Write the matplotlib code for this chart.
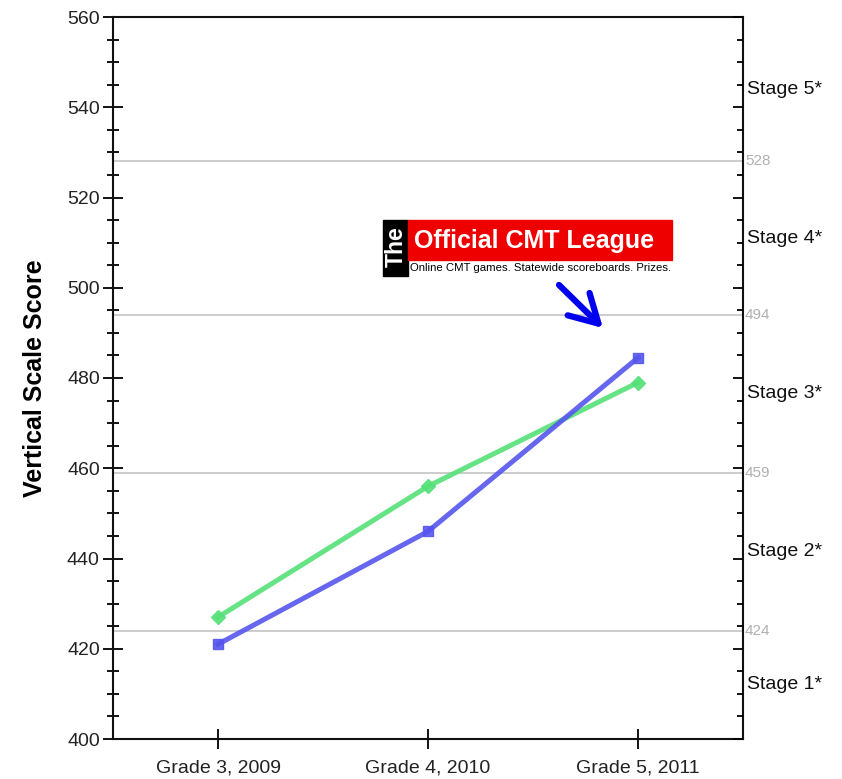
import matplotlib
matplotlib.use("Agg")
from matplotlib import pyplot as plt
from matplotlib.patches import Rectangle, FancyArrowPatch

plt.rcParams['font.family'] = ['Liberation Sans', 'DejaVu Sans']

grades = ['Grade 3, 2009', 'Grade 4, 2010', 'Grade 5, 2011']
blue_scores = [421, 446, 484.5]
green_scores = [427, 456, 479]
cut_scores = [424, 459, 494, 528]
stage_labels = ['Stage 1*', 'Stage 2*', 'Stage 3*', 'Stage 4*', 'Stage 5*']
stage_mid = [412, 441.5, 476.5, 511, 544]

fig = plt.figure(figsize=(8.42, 7.79), dpi=100)
ax = fig.add_axes([113/842, 40/779, 630/842, 722/779])

x = range(len(grades))
for c in cut_scores:
    ax.axhline(c, color='#c8c8c8', lw=1.3, zorder=1)
    ax.text(2.51, c, str(c), color='#b0b0b0', fontsize=11, va='center', ha='left')

ax.plot(x, green_scores, color='#55e077', lw=3.6, marker='D', ms=7.5, alpha=0.9, zorder=3)
ax.plot(x, blue_scores, color='#5555ee', lw=3.6, marker='s', ms=7.5, alpha=0.9, zorder=4)

for lab, y in zip(stage_labels, stage_mid):
    ax.text(2.52, y, lab, fontsize=14, color='#111111', va='center', ha='left')

ax.set_xlim(-0.5, 2.5)
ax.set_ylim(400, 560)
ax.set_xticks(list(x))
ax.set_xticklabels(grades, fontsize=14, color='#222222')
ax.set_yticks(range(400, 561, 20))
ax.set_yticks(range(400, 561, 5), minor=True)
ax.tick_params(axis='y', which='major', direction='inout', length=15, width=1.3, labelsize=14, labelcolor='#222222', pad=2)
ax.tick_params(axis='y', which='minor', direction='inout', length=8, width=1.3)

# right axis ticks point inward only
rax = ax.twinx()
rax.set_ylim(400, 560)
rax.set_yticks(range(400, 561, 20))
rax.set_yticks(range(400, 561, 5), minor=True)
rax.tick_params(axis='y', which='major', direction='in', length=7, width=1.3, labelright=False)
rax.tick_params(axis='y', which='minor', direction='in', length=4, width=1.3)
for s in rax.spines.values():
    s.set_visible(False)

ax.tick_params(axis='x', which='major', direction='inout', length=14, width=1.3, pad=8)
for s in ['left', 'right', 'bottom', 'top']:
    ax.spines[s].set_linewidth(1.5)
    ax.spines[s].set_color('#111111')
ax.set_ylabel('Vertical Scale Score', fontsize=18, fontweight='bold', labelpad=14)

# logo banner
fig.patches.append(Rectangle((383/842, 1-276/779), 25/842, 56/779, transform=fig.transFigure, color='black', zorder=5))
fig.patches.append(Rectangle((408/842, 1-260/779), 264/842, 40/779, transform=fig.transFigure, color='#ee0000', zorder=5))
fig.text(396/842, 1-247/779, 'The', rotation=90, color='white', fontsize=16.5, fontweight='bold', ha='center', va='center', zorder=6)
fig.text(534/842, 1-241/779, 'Official CMT League', color='white', fontsize=18, fontweight='bold', ha='center', va='center', zorder=6)
fig.text(410/842, 1-268/779, 'Online CMT games. Statewide scoreboards. Prizes.', color='black', fontsize=8.2, ha='left', va='center', zorder=6)
fig.patches.append(FancyArrowPatch((557/842, 1-283/779), (605/842, 1-330/779), transform=fig.transFigure,
                                   arrowstyle='->,head_length=0.8,head_width=0.45', color='#0000ee', lw=4.5, mutation_scale=25))

plt.savefig('out.png', dpi=100)
